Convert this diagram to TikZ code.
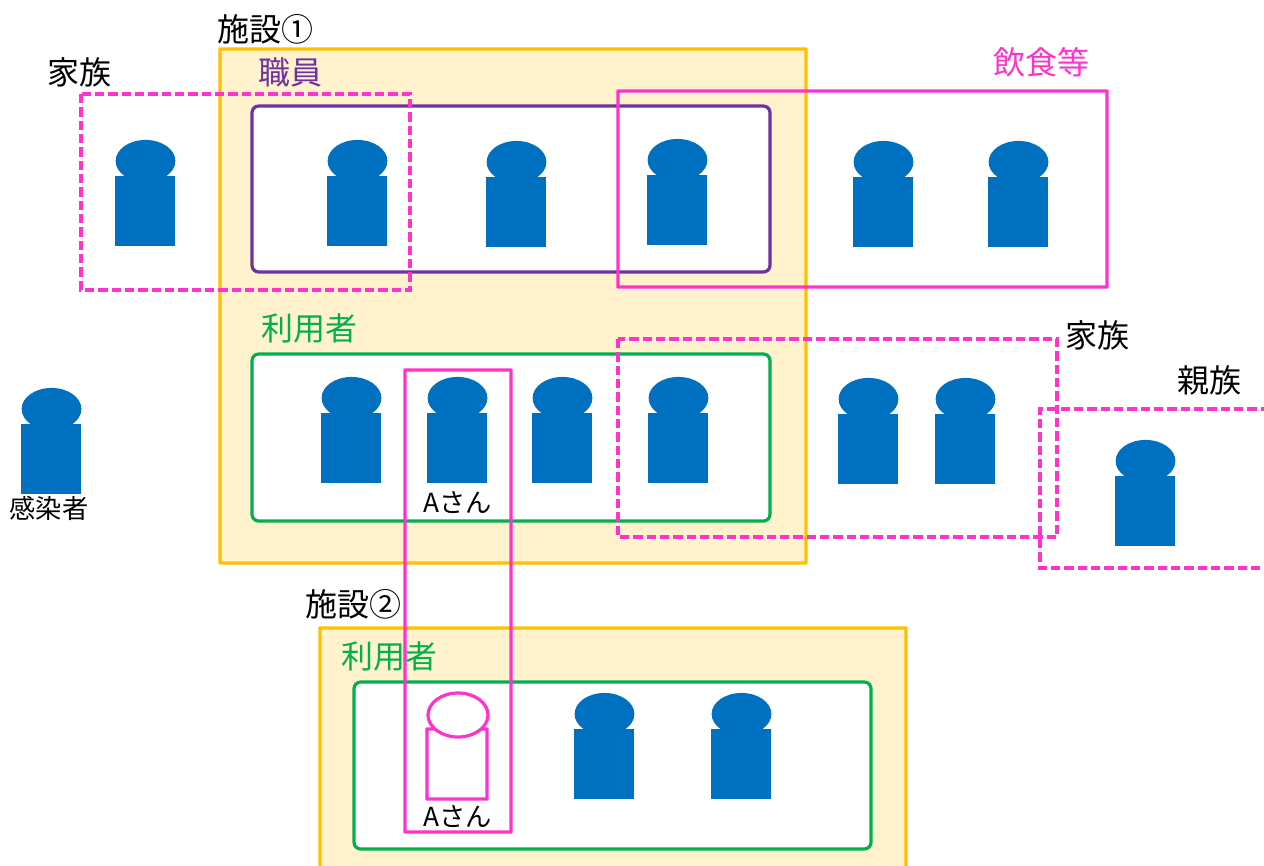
\documentclass[tikz,border=0pt]{standalone}
\usepackage{fontspec}
\setmainfont{Noto Sans CJK JP}
\tikzset{x=0.75pt,y=-0.75pt,
  facility/.style={draw=facorange,fill=facfill,line width=2.55pt,rounded corners=0.2pt},
  staffbox/.style={draw=staffpurple,fill=white,line width=2.4pt,rounded corners=5pt},
  userbox/.style={draw=usergreen,fill=white,line width=2.4pt,rounded corners=5pt},
  pinksolid/.style={draw=hotpink,line width=2.55pt,rounded corners=0.2pt},
  pinkdash/.style={draw=hotpink,line width=2.28pt,dash pattern=on 7pt off 3pt},
  bluepart/.style={fill=personblue},
  lab/.style={inner sep=0pt,anchor=west,font=\fontsize{24}{28}\selectfont},
  smalllab/.style={inner sep=0pt,font=\fontsize{19.7}{24}\selectfont},
}
\definecolor{facorange}{HTML}{FFC000}
\definecolor{facfill}{HTML}{FFF2CC}
\definecolor{staffpurple}{HTML}{7030A0}
\definecolor{usergreen}{HTML}{00B050}
\definecolor{hotpink}{HTML}{FF33CC}
\definecolor{personblue}{HTML}{0070C0}
\newcommand{\person}[2]{%
  \fill[bluepart] (#1+0.5,#2-49) ellipse [x radius=22.4pt,y radius=15.8pt];
  \fill[bluepart] (#1-30,#2-34.5) rectangle (#1+30,#2+36);
}
\begin{document}
\begin{tikzpicture}
\useasboundingbox (0,0) rectangle (1264,865);
\fill[white] (0,0) rectangle (1264,865);
\draw[facility] (220,49) rectangle (806,563);
\draw[facility] (320,628) -- (320,875) -- (906,875) -- (906,628) -- cycle;
\draw[staffbox] (252,106) rectangle (770,272);
\draw[userbox] (252,354) rectangle (770,521);
\draw[userbox] (354,682) rectangle (871,849);
\person{145}{210}
\person{357}{210}
\person{516}{211}
\person{677}{209}
\person{883}{211}
\person{1018}{211}
\person{51}{458}
\person{351}{447}
\person{457}{447}
\person{562}{447}
\person{678}{447}
\person{868}{448}
\person{965}{448}
\person{1145}{510}
\person{604}{763}
\person{741}{763}
\draw[pinkdash] (81,94) rectangle (410,290);
\draw[pinksolid] (618,91) rectangle (1107,287);
\draw[pinkdash] (618,339) rectangle (1057,537);
\draw[pinkdash] (1270,409) -- (1040,409) -- (1040,568) -- (1270,568);
\draw[pinksolid] (405,370) rectangle (511,832);
\draw[hotpink,line width=2.55pt,fill=white,rounded corners=0.2pt] (427,729) rectangle (487,799);
\draw[hotpink,line width=2.4pt,fill=white] (458,715) ellipse [x radius=22.5pt,y radius=16.5pt];
\node[lab] (l1) at (217,29) {施設①};
\node[lab] (l2) at (305,604) {施設②};
\node[lab] (l3) at (47,72) {家族};
\node[lab,text=staffpurple] (l4) at (258,72) {職員};
\node[lab,text=hotpink] (l5) at (993,62) {飲食等};
\node[lab,text=usergreen] (l6) at (261,328) {利用者};
\node[lab,text=usergreen] (l7) at (341,656) {利用者};
\node[lab] (l8) at (1065,335) {家族};
\node[lab] (l9) at (1177,380) {親族};
\node[smalllab] (l10) at (49,508) {感染者};
\node[smalllab] (l11) at (458,503) {Aさん};
\node[smalllab] (l12) at (458,817) {Aさん};
\end{tikzpicture}
\end{document}
